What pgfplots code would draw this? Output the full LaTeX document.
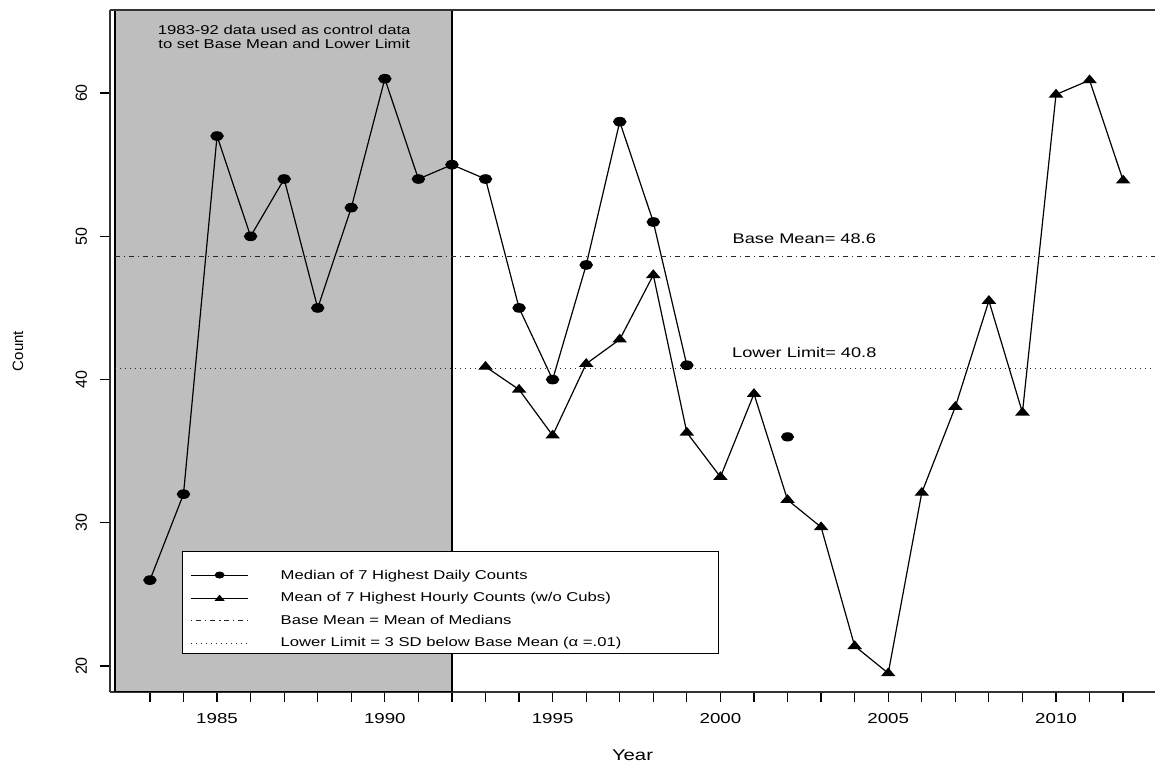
\documentclass[border=0pt]{standalone}
\usepackage{fontspec}
\setmainfont{Liberation Sans}[FakeStretch=1.3]
\newfontfamily\upright{Liberation Sans}
\usepackage{pgfplots}
\pgfplotsset{compat=1.18}
\definecolor{rgrey}{RGB}{190,190,190}
\newcommand{\legtext}[1]{\makebox[227pt][l]{\hspace{14pt}#1}}
\pgfplotsset{
  lowimg/.style={legend image code/.code={\draw[mark repeat=2,mark phase=2,##1,mark size=1.5pt,line width=0.5pt] plot coordinates {(0pt,-3pt) (14.25pt,-3pt) (28.5pt,-3pt)};}},
}

\begin{document}
\begin{tikzpicture}
\useasboundingbox (-55pt,-36pt) rectangle (522.5pt,346pt);
\begin{axis}[
  at={(0pt,0pt)}, anchor=south west,
  scale only axis, width=522.5pt, height=341pt,
  xmin=1981.81, xmax=2012.95, ymin=18.19, ymax=65.8,
  axis x line*=bottom, axis y line*=left,
  axis line style={-, line width=0.6pt, black!80},
  tick align=outside, major tick length=5pt, minor tick length=5pt,
  tick style={line width=0.6pt, black},
  xtick={1985,1990,...,2010}, minor xtick={1983,...,2012},
  ytick={20,30,...,60},
  /pgf/number format/1000 sep={},
  /pgf/number format/assume math mode=true,
  xticklabel style={font=\fontsize{7.2}{8}\selectfont, yshift=-2pt},
  yticklabel style={font=\upright\fontsize{8}{9}\selectfont, xshift=-3pt, rotate=90, anchor=south},
  every axis x label/.style={at={(axis description cs:0.5,-0.0924)}, anchor=center, font=\fontsize{7.8}{9}\selectfont},
  every axis y label/.style={at={(axis description cs:-0.088,0.5)}, rotate=90, anchor=center, font=\upright\fontsize{7.5}{9}\selectfont},
  xlabel={Year}, ylabel={Count},
  legend style={at={(axis description cs:0.0689,0.2067)}, anchor=north west,
    draw=black, line width=0.5pt, fill=white, font=\fontsize{6.4}{7}\selectfont,
    inner xsep=4pt, inner ysep=0pt, row sep=1pt},
  legend cell align=left,
  legend image code/.code={\draw[mark repeat=2,mark phase=2,#1] plot coordinates {(0pt,0pt) (14.25pt,0pt) (28.5pt,0pt)};},
  legend image post style={mark size=1.5pt},
]
% control period shading
\draw[fill=rgrey, line width=0.6pt] (axis cs:1981.96,18.19) rectangle (axis cs:1992,65.8);

% median of 7 highest daily counts
\addplot[black, line width=0.6pt, mark=*, mark size=2.1pt, mark options={xscale=1.45}, lowimg] coordinates {
(1983,26) (1984,32) (1985,57) (1986,50) (1987,54) (1988,45) (1989,52)
(1990,61) (1991,54) (1992,55) (1993,54) (1994,45) (1995,40) (1996,48)
(1997,58) (1998,51) (1999,41)
};
\addlegendentry{\legtext{\rule{0pt}{12pt}Median of 7 Highest Daily Counts}}

% mean of 7 highest hourly counts
\addplot[black, line width=0.6pt, mark=triangle*, mark size=2.4pt, mark options={xscale=1.45}] coordinates {
(1993,40.9) (1994,39.3) (1995,36.1) (1996,41.1) (1997,42.8) (1998,47.3)
(1999,36.3) (2000,33.2) (2001,39.0) (2002,31.6) (2003,29.7) (2004,21.4)
(2005,19.5) (2006,32.1) (2007,38.1) (2008,45.5) (2009,37.7) (2010,59.9)
(2011,60.9) (2012,53.9)
};
\addlegendentry{\legtext{Mean of 7 Highest Hourly Counts (w/o Cubs)}}

\addplot[black!85, line width=0.5pt, dash pattern=on 0.6pt off 1.9pt on 2.6pt off 1.9pt] coordinates {(1981.81,48.6) (2012.95,48.6)};
\addlegendentry{\legtext{Base Mean = Mean of Medians}}

\addplot[black!85, line width=0.5pt, dash pattern=on 0.6pt off 1.9pt] coordinates {(1981.81,40.8) (2012.95,40.8)};
\addlegendentry{\legtext{Lower Limit = 3 SD below Base Mean (α =.01)}}

\addplot[black, only marks, mark=*, mark size=2.1pt, mark options={xscale=1.45}, forget plot] coordinates {(2002,36)};

\draw[line width=0.6pt, black!80] (rel axis cs:0,1) -- (rel axis cs:1,1);

\node[font=\fontsize{7}{8}\selectfont] at (axis cs:2002.5,49.87) {Base Mean= 48.6};
\node[font=\fontsize{7}{8}\selectfont] at (axis cs:2002.5,41.92) {Lower Limit= 40.8};
\node[align=center, font=\fontsize{6.4}{7}\selectfont] at (axis cs:1987,63.9) {1983-92 data used as control data\\to set Base Mean and Lower Limit};
\end{axis}
\end{tikzpicture}
\end{document}
